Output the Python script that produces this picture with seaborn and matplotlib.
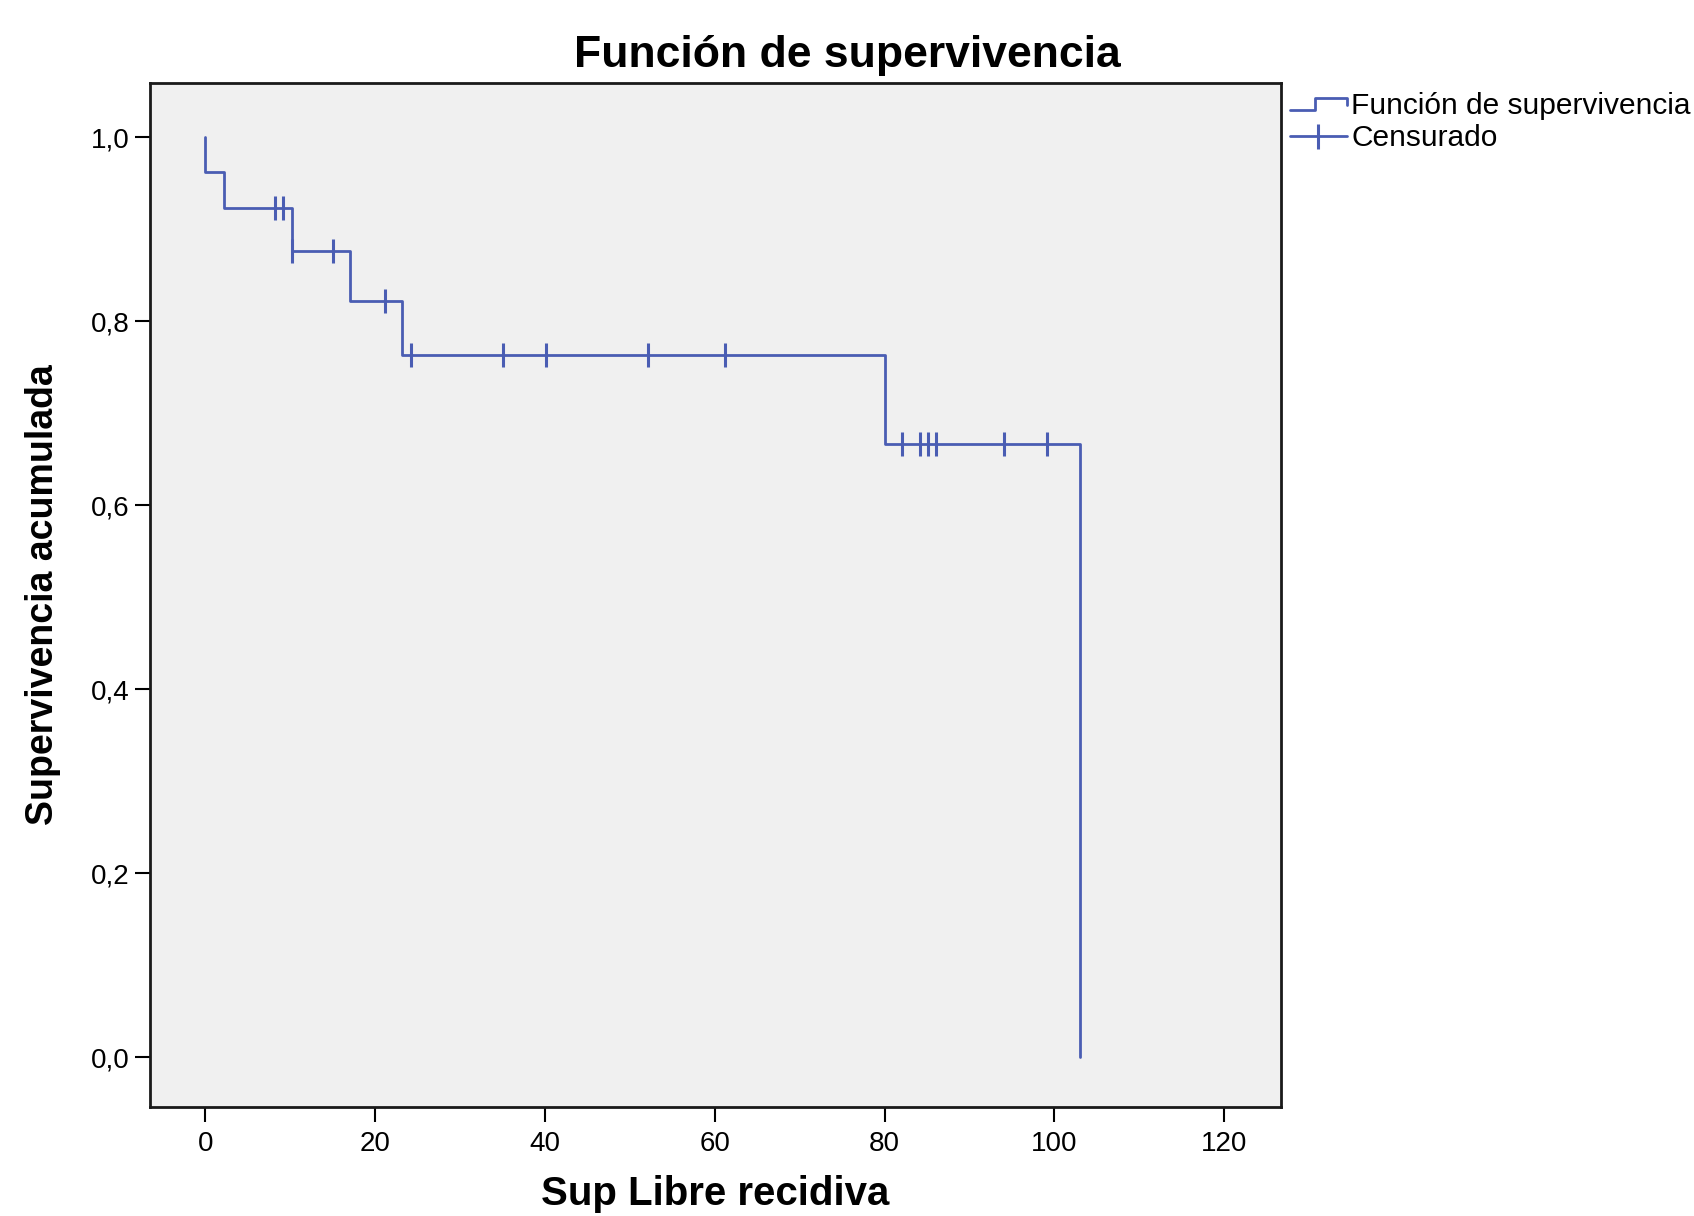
import numpy as np
import pandas as pd
import matplotlib
matplotlib.use("Agg")
import matplotlib.pyplot as plt
import seaborn as sns
from matplotlib.lines import Line2D
from matplotlib.legend_handler import HandlerBase

# ===============================
# Data
# ===============================
step_times = [0, 0, 2.2, 10.2, 17.0, 23.2, 80.0, 103.0]
step_surv = [1.0, 0.962, 0.923, 0.876, 0.822, 0.763, 0.667, 0.0]
censor_times = [8.2, 9.1, 10.2, 15.0, 21.2, 24.2, 35.1, 40.1, 52.2, 61.2,
                82.1, 84.2, 85.1, 86.1, 94.1, 99.1]

x_ticks = [0, 20, 40, 60, 80, 100, 120]
y_ticks = [0.0, 0.2, 0.4, 0.6, 0.8, 1.0]
y_tick_labels = ["0,0", "0,2", "0,4", "0,6", "0,8", "1,0"]

blue = "#4a5db3"

curve = pd.DataFrame({"t": step_times, "s": step_surv})
# censored points sit on the curve level at their time
idx = np.searchsorted(step_times, censor_times, side="right") - 1
cens = pd.DataFrame({"t": censor_times, "s": np.array(step_surv)[idx]})

sns.set_style("ticks")
plt.rcParams["font.family"] = ["Liberation Sans", "DejaVu Sans"]
plt.rcParams["text.color"] = "black"
plt.rcParams["xtick.color"] = "black"
plt.rcParams["ytick.color"] = "black"
plt.rcParams["axes.labelcolor"] = "black"

fig = plt.figure(figsize=(16.94, 12.16), dpi=100)
ax = fig.add_axes([0.0886, 0.0896, 0.6676, 0.8421])
ax.set_facecolor("#f0f0f0")

sns.lineplot(data=curve, x="t", y="s", sort=False, estimator=None,
             drawstyle="steps-post", color=blue, linewidth=2.0, ax=ax)
sns.scatterplot(data=cens, x="t", y="s", marker="|", s=300, linewidth=2.2,
                color=blue, ax=ax, zorder=3)

ax.set_xlim(-6.5, 126.7)
ax.set_ylim(-0.054, 1.0587)
ax.set_xticks(x_ticks)
ax.set_yticks(y_ticks)
ax.set_yticklabels(y_tick_labels)
ax.tick_params(axis="both", direction="out", length=11, width=1.5,
               labelsize=20, color="black", pad=4)
ax.tick_params(axis="x", pad=6)
for sp in ax.spines.values():
    sp.set_visible(True)
    sp.set_color("#1a1a1a")
    sp.set_linewidth(2.0)

ax.set_xlabel("Sup Libre recidiva", fontsize=29, fontweight="bold")
ax.set_ylabel("Supervivencia acumulada", fontsize=27, fontweight="bold")
ax.xaxis.set_label_coords(0.5, -0.066)
ax.yaxis.set_label_coords(-0.079, 0.5)
fig.suptitle("Función de supervivencia", fontsize=32, fontweight="bold",
             x=0.5, y=0.971)


# legend glyph for the survival function: small step
class StepHandler(HandlerBase):
    def create_artists(self, legend, orig_handle, xdescent, ydescent,
                       width, height, fontsize, trans):
        x0 = -xdescent
        y0 = -ydescent
        xs = [x0, x0 + width * 0.45, x0 + width * 0.45, x0 + width, x0 + width]
        ys = [y0 + height * 0.2, y0 + height * 0.2, y0 + height * 0.75,
              y0 + height * 0.75, y0 + height * 0.45]
        line = Line2D(xs, ys, color=orig_handle.get_color(),
                      linewidth=orig_handle.get_linewidth(), transform=trans)
        return [line]


h_step = Line2D([], [], color=blue, linewidth=2.0)
h_cens = Line2D([], [], color=blue, linewidth=2.0, marker="|",
                markersize=18, markeredgewidth=2.2)
ax.legend([h_step, h_cens], ["Función de supervivencia", "Censurado"],
          handler_map={h_step: StepHandler()},
          loc="upper left", bbox_to_anchor=(1.0, 1.0), frameon=False,
          fontsize=21.5, handlelength=1.9, handletextpad=0.15,
          labelspacing=0.15, borderaxespad=0.0, borderpad=0.3)

fig.savefig("out.png", dpi=100)
